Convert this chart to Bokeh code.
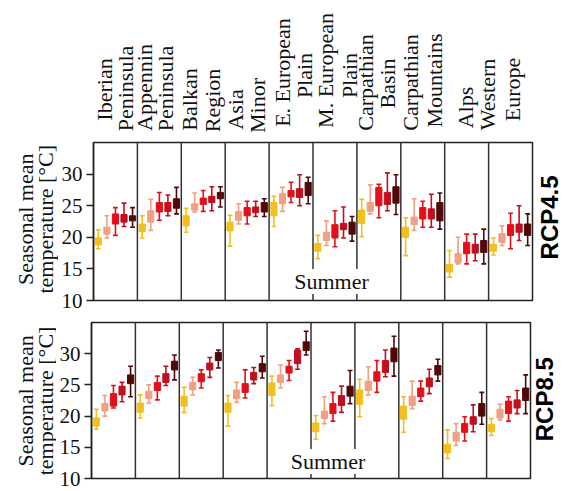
import math
from bokeh.plotting import figure
from bokeh.layouts import column, row
from bokeh.models import Label, Span, FixedTicker, Range1d, ColumnDataSource
from bokeh.core.properties import value
from bokeh.embed import file_html
from bokeh.resources import INLINE

# ---------------- data ----------------
regions = [("Iberian", "Peninsula"), ("Appennin", "Peninsula"), ("Balkan", "Region"),
           ("Asia", "Minor"), ("E. European", "Plain"), ("M. European", "Plain"),
           ("Carpathian", "Basin"), ("Carpathian", "Mountains"), ("Alps",),
           ("Western", "Europe")]
scenarios = ["RCP4.5", "RCP8.5"]
season = "Summer"
y_ticks = [10, 15, 20, 25, 30]
y_label = ["Seasonal mean", "temperature [°C]"]
period_colors = ["#F2C01E", "#EFA085", "#E3101A", "#C20E1E", "#520808"]

rcp45_median = [[19.4, 21.1, 22.9, 23.0, 23.0], [21.6, 23.3, 24.7, 24.8, 25.4],
                [22.6, 24.8, 25.7, 26.1, 26.6], [21.6, 23.4, 24.2, 24.5, 24.7],
                [24.5, 26.1, 27.0, 27.1, 27.6], [18.4, 20.1, 21.1, 21.7, 21.5],
                [23.3, 24.8, 26.4, 26.1, 26.6], [20.8, 22.6, 24.0, 23.7, 24.1],
                [15.1, 16.8, 18.4, 18.3, 18.5], [18.4, 20.0, 21.2, 21.5, 21.2]]
rcp45_q1 = [[18.8, 20.5, 22.1, 22.4, 22.6], [20.9, 22.4, 24.0, 24.1, 24.6],
            [21.8, 24.3, 25.2, 25.5, 26.1], [21.0, 22.7, 23.4, 23.9, 24.0],
            [23.4, 25.3, 26.4, 26.3, 26.6], [17.8, 19.5, 19.9, 21.2, 20.5],
            [22.2, 24.1, 25.0, 25.2, 25.4], [20.0, 22.0, 22.9, 22.9, 22.6],
            [14.5, 16.0, 17.4, 17.5, 17.6], [17.8, 19.2, 20.3, 20.8, 20.3]]
rcp45_q3 = [[19.9, 21.6, 23.7, 23.6, 23.4], [22.1, 24.2, 25.5, 25.5, 26.1],
            [23.4, 25.3, 26.2, 26.5, 27.1], [22.4, 24.1, 24.7, 24.8, 25.5],
            [25.5, 26.9, 27.4, 27.7, 28.7], [19.0, 20.8, 22.0, 22.2, 22.4],
            [24.3, 25.5, 27.9, 27.1, 28.0], [21.6, 23.2, 24.7, 24.5, 25.5],
            [15.7, 17.4, 19.2, 18.9, 19.5], [18.9, 20.6, 22.0, 22.1, 22.1]]
rcp45_low = [[18.2, 19.9, 20.3, 21.7, 21.6], [19.9, 21.1, 22.7, 23.4, 23.7],
             [20.8, 24.0, 24.1, 24.2, 24.8], [18.6, 22.1, 22.1, 23.3, 23.3],
             [21.7, 24.1, 25.5, 25.0, 25.3], [16.6, 18.7, 18.5, 19.9, 19.4],
             [20.1, 23.7, 23.1, 24.2, 23.6], [17.1, 21.1, 21.6, 21.6, 21.3],
             [13.7, 15.8, 15.8, 16.3, 15.8], [17.2, 18.7, 18.2, 19.5, 18.7]]
rcp45_high = [[21.2, 23.4, 24.7, 25.4, 24.7], [23.4, 26.0, 27.1, 26.7, 27.9],
              [24.6, 27.0, 27.4, 28.0, 28.0], [23.5, 25.3, 25.7, 25.7, 26.1],
              [26.5, 27.9, 28.7, 29.9, 29.5], [20.3, 22.6, 24.2, 24.8, 23.3],
              [26.0, 28.3, 28.4, 30.2, 29.9], [23.1, 26.1, 25.7, 26.8, 27.0],
              [17.9, 20.0, 20.5, 20.5, 21.3], [19.9, 21.8, 23.8, 25.0, 23.7]]

rcp85_median = [[19.1, 21.5, 22.6, 24.2, 25.9], [21.5, 23.4, 24.8, 26.2, 28.2],
                [22.4, 24.9, 26.2, 27.9, 29.5], [21.5, 23.6, 24.7, 26.5, 27.8],
                [24.3, 26.1, 27.5, 29.5, 31.2], [18.3, 20.3, 21.3, 22.5, 24.0],
                [23.2, 24.9, 26.4, 27.9, 29.8], [20.6, 22.5, 23.8, 25.4, 27.4],
                [14.8, 16.7, 18.1, 19.3, 21.1], [18.1, 20.4, 21.5, 22.0, 23.6]]
rcp85_q1 = [[18.4, 20.8, 21.6, 23.4, 25.2], [20.6, 22.8, 24.1, 25.4, 27.4],
            [21.6, 24.2, 25.5, 27.4, 28.9], [20.6, 22.8, 23.8, 25.8, 27.1],
            [23.3, 25.4, 26.9, 28.4, 30.5], [17.5, 19.6, 20.4, 21.7, 23.2],
            [21.9, 24.1, 25.6, 27.0, 28.7], [19.5, 21.7, 23.1, 24.7, 26.6],
            [14.1, 16.0, 17.4, 18.7, 20.0], [17.5, 19.7, 20.4, 21.3, 22.5]]
rcp85_q3 = [[19.7, 22.0, 23.6, 24.8, 26.6], [22.1, 24.0, 25.4, 26.8, 28.8],
            [23.2, 25.4, 26.8, 28.5, 30.2], [22.1, 24.2, 25.2, 27.0, 28.4],
            [25.3, 26.6, 28.0, 30.6, 31.9], [18.9, 20.8, 22.0, 23.3, 24.8],
            [24.2, 25.6, 27.1, 28.9, 30.9], [21.6, 23.2, 24.5, 26.1, 28.1],
            [15.5, 17.4, 18.8, 19.9, 22.0], [18.7, 21.1, 22.4, 22.6, 24.5]]
rcp85_low = [[17.9, 20.0, 21.3, 22.3, 23.1], [19.7, 22.1, 22.6, 24.9, 25.8],
             [20.6, 23.4, 24.5, 26.2, 27.7], [18.4, 22.2, 22.9, 25.2, 26.1],
             [21.7, 24.5, 25.7, 27.5, 29.8], [16.3, 18.8, 19.2, 20.6, 22.0],
             [19.9, 23.4, 23.8, 26.3, 26.4], [17.4, 21.2, 22.4, 23.6, 25.6],
             [13.2, 15.3, 16.0, 17.5, 18.7], [16.9, 19.4, 19.2, 20.4, 20.4]]
rcp85_high = [[21.1, 23.3, 24.9, 25.4, 28.0], [23.4, 25.0, 26.4, 28.0, 29.8],
              [24.6, 26.2, 27.4, 29.4, 30.6], [23.3, 25.4, 27.4, 27.8, 29.6],
              [26.4, 28.2, 28.9, 30.8, 33.6], [20.1, 23.1, 23.8, 24.8, 27.3],
              [25.9, 27.9, 28.9, 30.6, 32.8], [23.1, 25.6, 25.6, 27.5, 29.1],
              [17.8, 18.8, 19.9, 21.8, 23.8], [19.6, 21.9, 23.1, 24.1, 26.6]]

# ---------------- layout constants (page pixels) ----------------
SERIF = "Liberation Serif"
SANS = "Liberation Sans"
PAGE_W = 564
Y0, Y1 = 10, 35
NREG = len(regions)
box_offsets = [-0.39, -0.195, 0.0, 0.195, 0.39]
TOP_H = 137

# (centre x, centre y) of each rotated label line, page pixels
region_label_pos = [[(104, 89), (125, 88)], [(144, 87), (165, 88)], [(189, 99), (212, 100)],
                    [(235, 109), (257, 105)], [(282, 72), (304, 75)], [(325, 70), (349, 75)],
                    [(365, 82), (387, 83)], [(410, 82), (434, 80)], [(465, 107)],
                    [(487, 94), (512, 89)]]


def text_fig(w, h):
    f = figure(width=w, height=h, output_backend="svg", toolbar_location=None,
               x_range=Range1d(0, w), y_range=Range1d(0, h),
               x_axis_location=None, y_axis_location=None,
               min_border=0, min_border_left=0, min_border_right=0,
               min_border_top=0, min_border_bottom=0)
    f.outline_line_color = None
    f.xgrid.visible = False
    f.ygrid.visible = False
    f.background_fill_color = "white"
    f.border_fill_color = "white"
    return f


# ---------- region labels strip ----------
ptop = text_fig(PAGE_W, TOP_H)
lx, ly, lt = [], [], []
for lines, poss in zip(regions, region_label_pos):
    for txt, (cx, cy) in zip(lines, poss):
        lx.append(cx); ly.append(TOP_H - cy); lt.append(txt)
ptop.text(x=lx, y=ly, text=lt, angle=math.pi / 2, text_font=value(SERIF),
          text_font_size=value("22px"), text_color="#111111",
          text_align="center", text_baseline="middle")


def make_row(med, q1, q3, lo, hi, scen, left_w, fl_border, fw, fh, row_top, row_h,
             frame_top, ylab_cy, rcp_cx, rcp_cy, summer_c):
    border_top = frame_top - row_top
    border_bottom = row_h - border_top - fh
    panel_w = fl_border + fw + 2
    right_w = PAGE_W - left_w - panel_w
    fl = left_w + fl_border  # page x of frame left

    # left text (axis label, two rotated lines)
    pl = text_fig(left_w, row_h)
    pl.text(x=[24.5, 44.5], y=[row_h - (ylab_cy - row_top)] * 2, text=y_label,
            angle=math.pi / 2, text_font=value(SERIF), text_font_size=value("22px"),
            text_color="#111111", text_align="center", text_baseline="middle")

    # right text (scenario)
    pr = text_fig(right_w, row_h)
    pr.text(x=[rcp_cx - (left_w + panel_w)], y=[row_h - (rcp_cy - row_top)], text=[scen],
            angle=math.pi / 2, text_font=value(SANS), text_font_style="bold",
            text_font_size=value("24px"), text_color="black",
            text_align="center", text_baseline="middle")

    p = figure(width=panel_w, height=row_h, output_backend="svg", toolbar_location=None,
               x_range=Range1d(0, NREG), y_range=Range1d(Y0, Y1),
               x_axis_location=None, y_axis_location="left",
               min_border_left=fl_border, min_border_right=2,
               min_border_top=border_top, min_border_bottom=border_bottom)
    p.background_fill_color = "white"
    p.border_fill_color = "white"
    p.outline_line_color = "#222222"
    p.outline_line_width = 1.5
    p.xgrid.visible = False
    p.ygrid.visible = False

    px2x = lambda px: (px - fl) / fw * NREG
    py2y = lambda py: Y0 + (frame_top + fh - py) / fh * (Y1 - Y0)

    ax = p.yaxis[0]
    ax.ticker = FixedTicker(ticks=y_ticks)
    ax.major_label_text_font = SERIF
    ax.major_label_text_font_size = "21px"
    ax.major_label_text_color = "#111111"
    ax.major_tick_out = 7
    ax.major_tick_in = 0
    ax.minor_tick_line_color = None
    ax.major_tick_line_width = 1.5
    ax.major_tick_line_color = "#222222"
    ax.axis_line_color = "#222222"
    ax.axis_line_width = 1.5
    ax.major_label_standoff = 4

    for k in range(1, NREG):
        p.add_layout(Span(location=k, dimension="height", line_color="#333333", line_width=1.5))

    xs, b, t, l, h, m, cols = [], [], [], [], [], [], []
    for i in range(NREG):
        for j in range(len(period_colors)):
            xs.append(i + 0.5 + box_offsets[j])
            b.append(q1[i][j]); t.append(q3[i][j])
            l.append(lo[i][j]); h.append(hi[i][j]); m.append(med[i][j])
            cols.append(period_colors[j])
    src = ColumnDataSource(dict(x=xs, q1=b, q3=t, lo=l, hi=h, med=m, c=cols,
                                cl=[x - 0.055 for x in xs], cr=[x + 0.055 for x in xs]))
    p.segment(x0="x", y0="lo", x1="x", y1="hi", line_color="c", line_width=1.6, source=src)
    p.segment(x0="cl", y0="lo", x1="cr", y1="lo", line_color="c", line_width=1.6, source=src)
    p.segment(x0="cl", y0="hi", x1="cr", y1="hi", line_color="c", line_width=1.6, source=src)
    p.vbar(x="x", width=0.14, bottom="q1", top="q3", fill_color="c", line_color="c",
           line_width=1, source=src)

    p.add_layout(Label(x=px2x(summer_c[0]), y=py2y(summer_c[1]), text=season,
                       text_font=SERIF, text_font_size="22px", text_color="#111111",
                       text_align="center", text_baseline="middle",
                       background_fill_color="white"))
    return row(pl, p, pr, spacing=0)


row1 = make_row(rcp45_median, rcp45_q1, rcp45_q3, rcp45_low, rcp45_high, scenarios[0],
                left_w=58, fl_border=35, fw=439, fh=158, row_top=TOP_H, row_h=175,
                frame_top=142, ylab_cy=222, rcp_cx=549, rcp_cy=220, summer_c=(331, 281))
row2 = make_row(rcp85_median, rcp85_q1, rcp85_q3, rcp85_low, rcp85_high, scenarios[1],
                left_w=56, fl_border=34, fw=440, fh=156, row_top=TOP_H + 175, row_h=179,
                frame_top=322, ylab_cy=402, rcp_cx=544, rcp_cy=400, summer_c=(327, 461))

p = column(ptop, row1, row2, spacing=0)
open("out.html", "w").write(file_html(p, INLINE))
